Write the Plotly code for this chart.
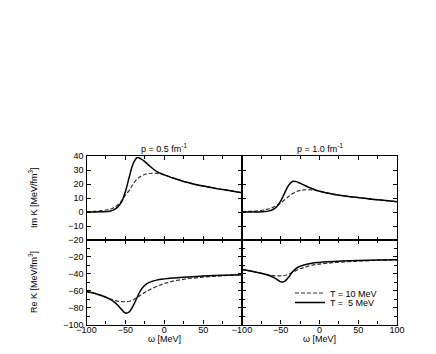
import plotly.graph_objects as go

# =====================================
# DATA
# =====================================

omega = [-100, -90, -80, -70, -65, -60, -55, -50, -45, -40, -35,
         -30, -25, -20, -10, 0, 10, 25, 50, 75, 100]

im_p05_t5 = [0, 0, 0.1, 0.5, 1.5, 3.5, 7, 14.5, 25, 34.5, 38.8,
             38, 36, 33.5, 29, 26.5, 24.5, 21.8, 18.5, 16, 13.8]
im_p05_t10 = [0.2, 0.5, 1, 2, 3, 5, 8, 12, 15.5, 20, 23.5,
              25.5, 26.8, 27.5, 27.6, 26.5, 24.5, 21.8, 18.5, 16, 13.8]

im_p10_t5 = [0, 0, 0.05, 0.3, 0.8, 1.8, 4, 8, 13.5, 19, 21.8,
             21.7, 20.5, 19.2, 16.8, 14.8, 13.5, 12, 10.3, 8.7, 7.4]
im_p10_t10 = [0.3, 0.5, 0.8, 1.6, 2.3, 3.3, 4.7, 6.5, 8.7, 11, 13,
              14.5, 15.4, 15.8, 15.8, 14.9, 13.6, 12, 10.3, 8.7, 7.4]

re_p05_t5 = [-61, -63, -66, -70, -73, -77, -82, -86.5, -85, -78, -68,
             -59, -53.5, -50.5, -47.5, -46, -45, -44, -42.7, -41.7, -41]
re_p05_t10 = [-61, -63, -66, -69.5, -71, -72.3, -73, -73, -72.5, -71, -68,
              -65, -62, -59.5, -55, -51.5, -49, -46.5, -44, -42.3, -41]

re_p10_t5 = [-35, -36.5, -38.5, -40.5, -42, -44, -46.5, -49.5, -49, -44, -38,
             -33.5, -31, -29.5, -27.5, -26.5, -25.8, -25, -24.3, -23.8, -23.5]
re_p10_t10 = [-35, -36.5, -38.5, -40.5, -41.5, -42.2, -42.5, -42.5, -42, -40.5, -38.5,
              -36, -34, -32.5, -30, -28.5, -27.5, -26.3, -25, -24, -23.5]

panel_titles = ["p = 0.5 fm<sup>-1</sup>", "p = 1.0 fm<sup>-1</sup>"]
legend_names = ["T = 10 MeV", "T =\u00a0\u00a05 MeV"]
x_ticks_left = [-100, -50, 0, 50]
x_ticks_right = [-100, -50, 0, 50, 100]

# =====================================
# FIGURE
# =====================================

W, H = 436, 354
OFF = 8  # page body margin
FONT = "Liberation Sans, Arial, sans-serif"


def px_x(v):
    return (v - OFF) / W


def px_y(v):
    return 1 - (v - OFF) / H


fig = go.Figure()

panels = [
    ("x3", "y3", im_p05_t10, im_p05_t5),
    ("x4", "y4", im_p10_t10, im_p10_t5),
    ("x", "y", re_p05_t10, re_p05_t5),
    ("x2", "y2", re_p10_t10, re_p10_t5),
]

for i, (xa, ya, dashed, solid) in enumerate(panels):
    fig.add_trace(go.Scatter(
        x=omega, y=dashed, xaxis=xa, yaxis=ya, mode="lines",
        line=dict(color="#333333", width=1.2, dash="4px,2px", shape="spline"),
        name=legend_names[0], showlegend=(i == 0), legend="legend",
    ))
    fig.add_trace(go.Scatter(
        x=omega, y=solid, xaxis=xa, yaxis=ya, mode="lines",
        line=dict(color="black", width=1.5, shape="spline"),
        name=legend_names[1], showlegend=(i == 0), legend="legend2",
    ))

x_left = [px_x(86.5), px_x(242)]
x_right = [px_x(242), px_x(397)]
y_top = [px_y(240), px_y(156)]
y_bot = [px_y(324.5), px_y(240)]

common = dict(
    showline=True, linecolor="black", linewidth=1.2, mirror="ticks",
    ticks="inside", ticklen=4, tickwidth=1, tickcolor="black",
    showgrid=False, zeroline=False,
    tickfont=dict(family=FONT, size=9, color="black"),
)

xminor = dict(dtick=25, tick0=-100, ticks="inside", ticklen=3, tickcolor="black")
xcommon = dict(common, range=[-100, 100], ticklabelstandoff=-3, minor=xminor)
yminor = dict(dtick=10, ticks="inside", ticklen=3, tickcolor="black")

leg = dict(
    xanchor="left", yanchor="middle",
    bgcolor="rgba(0,0,0,0)", borderwidth=0,
    font=dict(family=FONT, size=9, color="black"),
    itemwidth=30,
)

fig.update_layout(
    width=W, height=H,
    margin=dict(l=0, r=0, t=0, b=0, autoexpand=False),
    plot_bgcolor="white", paper_bgcolor="white",
    font=dict(family=FONT, size=9, color="black"),
    xaxis=dict(xcommon, domain=x_left, anchor="y", tickvals=x_ticks_left),
    xaxis2=dict(xcommon, domain=x_right, anchor="y2", tickvals=x_ticks_right),
    xaxis3=dict(xcommon, domain=x_left, anchor="y3", tickvals=x_ticks_right,
                showticklabels=False),
    xaxis4=dict(xcommon, domain=x_right, anchor="y4", tickvals=x_ticks_right,
                showticklabels=False),
    yaxis=dict(common, domain=y_bot, anchor="x", range=[-100, 0],
               tickvals=[-100, -80, -60, -40, -20], minor=yminor),
    yaxis2=dict(common, domain=y_bot, anchor="x2", range=[-100, 0],
                tickvals=[-100, -80, -60, -40, -20], showticklabels=False,
                minor=yminor),
    yaxis3=dict(common, domain=y_top, anchor="x3", range=[-20, 40], dtick=10),
    yaxis4=dict(common, domain=y_top, anchor="x4", range=[-20, 40], dtick=10,
                showticklabels=False),
    legend=dict(leg, x=px_x(290), y=px_y(293)),
    legend2=dict(leg, x=px_x(290), y=px_y(302.5)),
)

annotations = [
    dict(x=(x_left[0] + x_left[1]) / 2, y=px_y(148), text=panel_titles[0]),
    dict(x=(x_right[0] + x_right[1]) / 2, y=px_y(148), text=panel_titles[1]),
    dict(x=(x_left[0] + x_left[1]) / 2, y=px_y(338.5), text="ω [MeV]"),
    dict(x=(x_right[0] + x_right[1]) / 2, y=px_y(338.5), text="ω [MeV]"),
    dict(x=px_x(33), y=px_y(198), text="Im K [MeV/fm<sup>3</sup>]", textangle=-90),
    dict(x=px_x(33), y=px_y(282), text="Re K [MeV/fm<sup>3</sup>]", textangle=-90),
]
for a in annotations:
    fig.add_annotation(xref="paper", yref="paper", showarrow=False,
                       xanchor="center", yanchor="middle",
                       font=dict(family=FONT, size=9, color="black"), **a)

fig.write_html("out.html")
